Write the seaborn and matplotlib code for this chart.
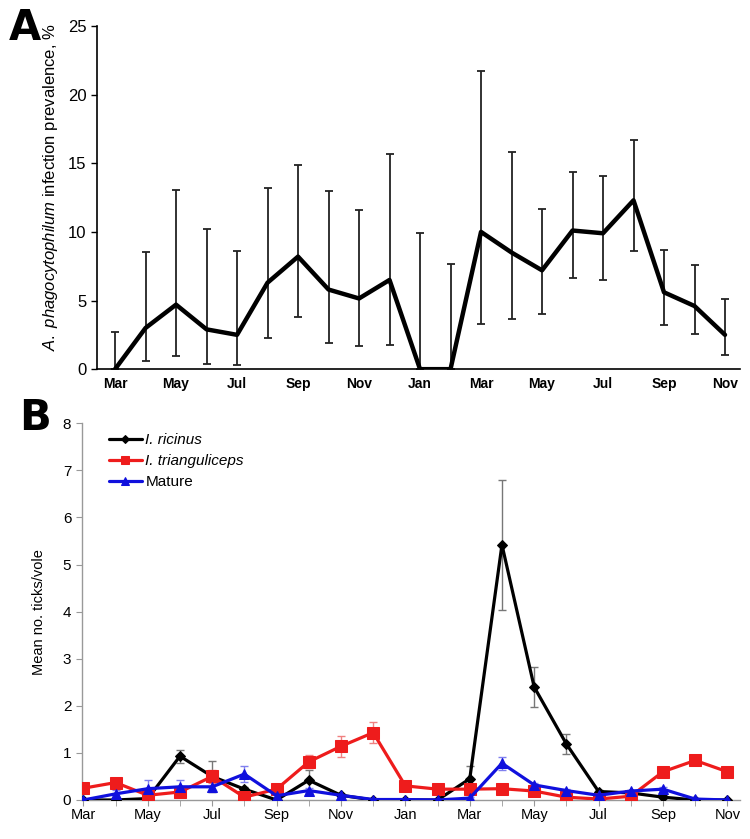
import numpy as np
import pandas as pd
import matplotlib
matplotlib.use("Agg")
import matplotlib.pyplot as plt
import seaborn as sns

sns.set_style("white")
plt.rcParams["font.family"] = ["Liberation Sans", "DejaVu Sans"]
plt.rcParams["mathtext.fontset"] = "custom"
plt.rcParams["mathtext.it"] = "Liberation Sans:italic"
plt.rcParams["mathtext.rm"] = "Liberation Sans"
plt.rcParams["text.color"] = "black"
plt.rcParams["axes.labelcolor"] = "black"
plt.rcParams["xtick.color"] = "black"
plt.rcParams["ytick.color"] = "black"

# ---------- data ----------
months = ["Mar", "Apr", "May", "Jun", "Jul", "Aug", "Sep", "Oct", "Nov", "Dec", "Jan",
          "Feb", "Mar", "Apr", "May", "Jun", "Jul", "Aug", "Sep", "Oct", "Nov"]
tick_labels = ["Mar", "May", "Jul", "Sep", "Nov", "Jan", "Mar", "May", "Jul", "Sep", "Nov"]

# panel A: prevalence (%) with asymmetric CI
prevalence = [0, 3.0, 4.7, 2.9, 2.5, 6.3, 8.2, 5.8, 5.15, 6.5, 0,
              0, 10.0, 8.5, 7.2, 10.1, 9.9, 12.3, 5.6, 4.6, 2.5]
prev_low = [0, 0.6, 0.95, 0.35, 0.27, 2.3, 3.8, 1.9, 1.7, 1.75, 0,
            0, 3.3, 3.65, 4.0, 6.65, 6.5, 8.6, 3.25, 2.55, 1.0]
prev_high = [2.7, 8.55, 13.05, 10.2, 8.6, 13.2, 14.9, 13.0, 11.6, 15.65, 9.95,
             7.65, 21.75, 15.85, 11.7, 14.35, 14.1, 16.7, 8.65, 7.6, 5.1]

# panel B: mean ticks per vole
ricinus = [0, 0, 0.03, 0.93, 0.5, 0.23, 0, 0.42, 0.1, 0, 0,
           0, 0.45, 5.42, 2.4, 1.19, 0.18, 0.15, 0.06, 0, 0]
ricinus_err = [0, 0, 0.02, 0.14, 0.33, 0.05, 0, 0.22, 0.03, 0, 0,
               0, 0.27, 1.38, 0.42, 0.22, 0.03, 0.03, 0.05, 0, 0]
trianguliceps = [0.25, 0.37, 0.1, 0.17, 0.5, 0.06, 0.23, 0.81, 1.14, 1.43, 0.3,
                 0.23, 0.23, 0.24, 0.19, 0.06, 0.02, 0.08, 0.6, 0.84, 0.6]
trianguliceps_err = [0.03, 0.06, 0.04, 0.05, 0.13, 0.03, 0.1, 0.14, 0.22, 0.22, 0.07,
                     0.03, 0.03, 0.03, 0.03, 0.02, 0.01, 0.02, 0.05, 0.1, 0.05]
mature = [0, 0.13, 0.24, 0.28, 0.28, 0.55, 0.09, 0.2, 0.1, 0.01, 0.01,
          0, 0.04, 0.78, 0.32, 0.2, 0.1, 0.19, 0.23, 0.02, 0]
mature_err = [0, 0.08, 0.18, 0.15, 0.12, 0.17, 0.05, 0.05, 0.02, 0, 0,
              0, 0.02, 0.14, 0.05, 0.03, 0.03, 0.03, 0.04, 0.01, 0]

x = np.arange(len(months))

fig = plt.figure(figsize=(7.5, 8.39), dpi=100)

# ========== Panel A ========== #
axA = fig.add_axes([0.129, 0.560, 0.858, 0.409])
axA.errorbar(x, prevalence, yerr=[np.array(prevalence) - np.array(prev_low),
                                   np.array(prev_high) - np.array(prevalence)],
             fmt="none", ecolor="#222222", elinewidth=1.3, capsize=3, capthick=1.3, zorder=2)
sns.lineplot(x=x, y=prevalence, ax=axA, color="black", linewidth=3.2, zorder=3)
axA.set_xlim(-0.6, 20.5)
axA.set_ylim(0, 25)
axA.set_yticks([0, 5, 10, 15, 20, 25])
axA.set_xticks(x[::2])
axA.set_xticklabels(tick_labels, fontsize=10, fontweight="bold")
axA.tick_params(axis="x", length=0, pad=6)
axA.tick_params(axis="y", length=4, width=1, labelsize=12, direction="out", left=True)
for s in ["top", "right"]:
    axA.spines[s].set_visible(False)
for s in ["left", "bottom"]:
    axA.spines[s].set_color("black")
    axA.spines[s].set_linewidth(1.2)
axA.set_ylabel(r"$\it{A.\ phagocytophilum}$ infection prevalence, %", fontsize=12)
axA.yaxis.set_label_coords(-0.057, 0.53)

# ========== Panel B ========== #
axB = fig.add_axes([0.109, 0.0465, 0.878, 0.449])
series = [
    ("I. ricinus", ricinus, ricinus_err, "black", "#777777", "D", 5),
    ("I. trianguliceps", trianguliceps, trianguliceps_err, "#ee1c1c", "#f08080", "s", 8),
    ("Mature", mature, mature_err, "#1010dd", "#8080ee", "^", 7.5),
]
for name, vals, err, col, ecol, mk, ms in series:
    axB.errorbar(x, vals, yerr=err, fmt="none", ecolor=ecol, elinewidth=1.0,
                 capsize=3, capthick=1.0, zorder=2)
    sns.lineplot(x=x, y=vals, ax=axB, color=col, linewidth=2.3, marker=mk,
                 markersize=ms, markeredgecolor=col, label=name, zorder=3)
axB.set_xlim(-0.05, 20.4)
axB.set_ylim(0, 8)
axB.set_yticks(range(0, 9))
axB.set_xticks(x, minor=True)
axB.set_xticks(x[::2])
axB.set_xticklabels(tick_labels, fontsize=10.5)
axB.tick_params(axis="x", which="both", length=4, color="#999999", labelcolor="black",
                direction="out", bottom=True, pad=2)
axB.tick_params(axis="y", length=4, color="#999999", labelcolor="black", labelsize=11,
                direction="out", left=True)
for s in ["top", "right"]:
    axB.spines[s].set_visible(False)
for s in ["left", "bottom"]:
    axB.spines[s].set_color("#999999")
    axB.spines[s].set_linewidth(1.0)
axB.set_ylabel("Mean no. ticks/vole", fontsize=10.5)
axB.yaxis.set_label_coords(-0.055, 0.5)

leg = axB.legend(loc="upper left", bbox_to_anchor=(0.02, 1.01), frameon=False,
                 fontsize=11, handlelength=2.2, handletextpad=0.2, labelspacing=0.45,
                 markerscale=0.8)
for txt in leg.get_texts()[:2]:
    txt.set_style("italic")

# panel letters
fig.text(0.012, 0.992, "A", fontsize=30, fontweight="heavy", va="top",
         family="DejaVu Sans", color="black")
fig.text(0.025, 0.527, "B", fontsize=30, fontweight="heavy", va="top",
         family="DejaVu Sans", color="black")

fig.savefig("out.png", dpi=100)
